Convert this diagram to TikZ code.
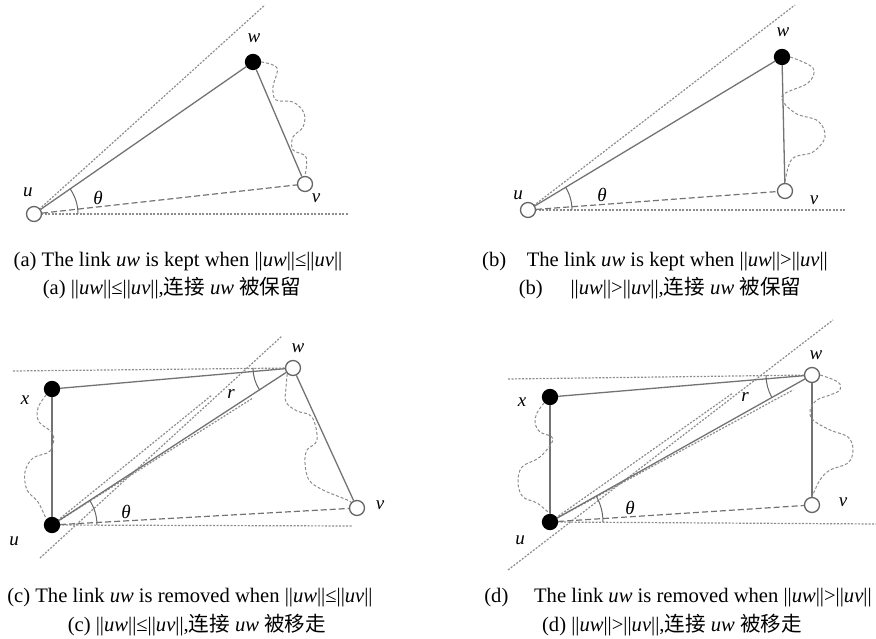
\documentclass[tikz,border=0pt]{standalone}
\usepackage{fontspec}
\setmainfont{Liberation Serif}
\newfontfamily\cjk{Noto Sans CJK SC}
\usetikzlibrary{positioning}

\begin{document}
\begin{tikzpicture}[
      x=1pt, y=1pt,
      vtx/.style={circle, draw=black!60, line width=1.3pt, minimum size=15pt, inner sep=0pt},
      openv/.style={vtx, fill=white},
      fullv/.style={vtx, fill=black, draw=black},
      lnk/.style={draw=black!55, line width=1.3pt},
      dashlnk/.style={draw=black!55, line width=1.2pt, dash pattern=on 6pt off 3pt},
      dotline/.style={draw=black!45, line width=1.2pt, dash pattern=on 2pt off 1.5pt},
      wavy/.style={draw=black!45, line width=1pt, dash pattern=on 3pt off 2pt},
      anglearc/.style={draw=black!60, line width=1pt},
      lbl/.style={font=\fontsize{19}{22}\selectfont\itshape, inner sep=0pt},
      captext/.style={font=\fontsize{20.6}{24}\selectfont, inner sep=0pt}
      ]
      \useasboundingbox (0,0) rectangle (876,639);

      % (a) kept, ||uw|| <= ||uv||
      \coordinate (ha) at (348,425);
      \coordinate (ta) at (265,634);
      \draw [dotline] (34,425) -- (ha);
      \draw [dotline] (34,425) -- (ta);
      \node (ua) [openv] at (34,425) {};
      \node (wa) [fullv] at (253,577) {};
      \node (va) [openv] at (305,455) {};
      \draw [lnk] (ua) -- (wa);
      \draw [lnk] (wa) -- (va);
      \draw [dashlnk] (ua) -- (va);
      \draw [wavy] plot [smooth, tension=0.6] coordinates {(wa.east) (277,571) (273,552) (276,539) (293,537) (304,526) (303,512) (293,502) (293,489) (306,482) (va.north)};
      \draw [anglearc] ([shift={(0:44)}]ua.center) arc [start angle=0, end angle=34.8, radius=44];
      \node (lua) [lbl] at (28,447) {u};
      \node (lwa) [lbl] at (254,601) {w};
      \node (lva) [lbl] at (316,441) {v};
      \node (lta) [lbl] at (98,441) {θ};
      \node (capa1) [captext] at (178,377) {(a) The link \textit{uw} is kept when ||\textit{uw}||≤||\textit{uv}||};
      \node (capa2) [captext] at (172,351) {(a) ||\textit{uw}||≤||\textit{uv}||,{\cjk 连接} \textit{uw} {\cjk 被保留}};

      % (b) kept, ||uw|| > ||uv||
      \coordinate (hb) at (845,429);
      \coordinate (tb) at (795,634);
      \draw [dotline] (528,429) -- (hb);
      \draw [dotline] (528,429) -- (tb);
      \node (ub) [openv] at (528,429) {};
      \node (wb) [fullv] at (782,582) {};
      \node (vb) [openv] at (785,448) {};
      \draw [lnk] (ub) -- (wb);
      \draw [lnk] (wb) -- (vb);
      \draw [dashlnk] (ub) -- (vb);
      \draw [wavy] plot [smooth, tension=0.6] coordinates {(wb.east) (813,571) (808,556) (782,543) (795,526) (818,518) (825,502) (813,487) (792,480) (vb.north)};
      \draw [anglearc] ([shift={(0:44)}]ub.center) arc [start angle=0, end angle=31.1, radius=44];
      \node (lub) [lbl] at (518,444) {u};
      \node (lwb) [lbl] at (783,607) {w};
      \node (lvb) [lbl] at (814,439) {v};
      \node (ltb) [lbl] at (602,444) {θ};
      \node (capb1) [captext] at (655,377) {(b)\hspace{0.75em} The link \textit{uw} is kept when ||\textit{uw}||>||\textit{uv}||};
      \node (capb2) [captext] at (660,351) {(b)\hspace{1.1em} ||\textit{uw}||>||\textit{uv}||,{\cjk 连接} \textit{uw} {\cjk 被保留}};

      % (c) removed, ||uw|| <= ||uv||
      \coordinate (hc1) at (13,268);
      \coordinate (hc2) at (352,113);
      \coordinate (lc1) at (40,81);
      \coordinate (lc2) at (282,303);
      \coordinate (mc) at (212,244);
      \coordinate (dc) at (253,241);
      \draw [dotline] (lc1) -- (lc2);
      \draw [dotline] (hc1) -- (293,271);
      \draw [dotline] (52,114) -- (hc2);
      \draw [dotline] (52,114) -- (mc);
      \draw [dotline] (52,114) -- (dc);
      \node (uc) [fullv] at (52,114) {};
      \node (xc) [fullv] at (52,250) {};
      \node (wc) [openv] at (293,271) {};
      \node (vc) [openv] at (357,131) {};
      \draw [lnk] (xc) -- (wc);
      \draw [lnk] (xc) -- (uc);
      \draw [lnk] (uc) -- (wc);
      \draw [lnk] (wc) -- (vc);
      \draw [dashlnk] (uc) -- (vc);
      \draw [wavy] plot [smooth, tension=0.6] coordinates {(xc.south west) (38,231) (39,217) (53,205) (50,188) (33,181) (25,167) (27,149) (38,137) (uc.north west)};
      \draw [wavy] plot [smooth, tension=0.6] coordinates {(wc.south west) (286,251) (286,237) (297,228) (312,222) (317,199) (307,189) (305,176) (309,159) (323,149) (345,140) (vc.north west)};
      \draw [anglearc] ([shift={(0:45)}]uc.center) arc [start angle=0, end angle=33.1, radius=45];
      \draw [anglearc] ([shift={(180:40)}]wc.center) arc [start angle=180, end angle=213.1, radius=40];
      \node (lxc) [lbl] at (25,239) {x};
      \node (luc) [lbl] at (14,98) {u};
      \node (lwc) [lbl] at (298,291) {w};
      \node (lvc) [lbl] at (380,134) {v};
      \node (lrc) [lbl] at (231,245) {r};
      \node (ltc) [lbl] at (126,127) {θ};
      \node (capc1) [captext] at (190,41) {(c) The link \textit{uw} is removed when ||\textit{uw}||≤||\textit{uv}||};
      \node (capc2) [captext] at (197,14) {(c) ||\textit{uw}||≤||\textit{uv}||,{\cjk 连接} \textit{uw} {\cjk 被移走}};

      % (d) removed, ||uw|| > ||uv||
      \coordinate (hd1) at (508,260);
      \coordinate (hd2) at (876,115);
      \coordinate (ld1) at (508,69);
      \coordinate (ld2) at (833,319);
      \coordinate (md) at (733,246);
      \coordinate (dd) at (793,249);
      \draw [dotline] (ld1) -- (ld2);
      \draw [dotline] (hd1) -- (812,264);
      \draw [dotline] (550,117) -- (hd2);
      \draw [dotline] (550,117) -- (md);
      \draw [dotline] (550,117) -- (dd);
      \node (ud) [fullv] at (550,117) {};
      \node (xd) [fullv] at (550,242) {};
      \node (wd) [openv] at (812,264) {};
      \node (vd) [openv] at (812,134) {};
      \draw [lnk] (xd) -- (wd);
      \draw [lnk] (xd) -- (ud);
      \draw [lnk] (ud) -- (wd);
      \draw [lnk] (wd) -- (vd);
      \draw [dashlnk] (ud) -- (vd);
      \draw [wavy] plot [smooth, tension=0.6] coordinates {(xd.south west) (537,226) (535,216) (540,207) (553,200) (540,182) (522,172) (518,156) (523,142) (537,136) (ud.north)};
      \draw [wavy] plot [smooth, tension=0.6] coordinates {(wd.east) (838,257) (840,249) (830,244) (817,239) (810,229) (813,219) (830,209) (848,202) (853,189) (848,176) (830,169) (820,159) (vd.north)};
      \draw [anglearc] ([shift={(0:53)}]ud.center) arc [start angle=0, end angle=29.3, radius=53];
      \draw [anglearc] ([shift={(180:46)}]wd.center) arc [start angle=180, end angle=209.3, radius=46];
      \node (lxd) [lbl] at (522,237) {x};
      \node (lud) [lbl] at (520,99) {u};
      \node (lwd) [lbl] at (816,284) {w};
      \node (lvd) [lbl] at (843,137) {v};
      \node (lrd) [lbl] at (745,242) {r};
      \node (ltd) [lbl] at (630,131) {θ};
      \node (capd1) [captext] at (678,41) {(d)\hspace{1em} The link \textit{uw} is removed when ||\textit{uw}||>||\textit{uv}||};
      \node (capd2) [captext] at (672,14) {(d) ||\textit{uw}||>||\textit{uv}||,{\cjk 连接} \textit{uw} {\cjk 被移走}};

    \end{tikzpicture}
\end{document}
